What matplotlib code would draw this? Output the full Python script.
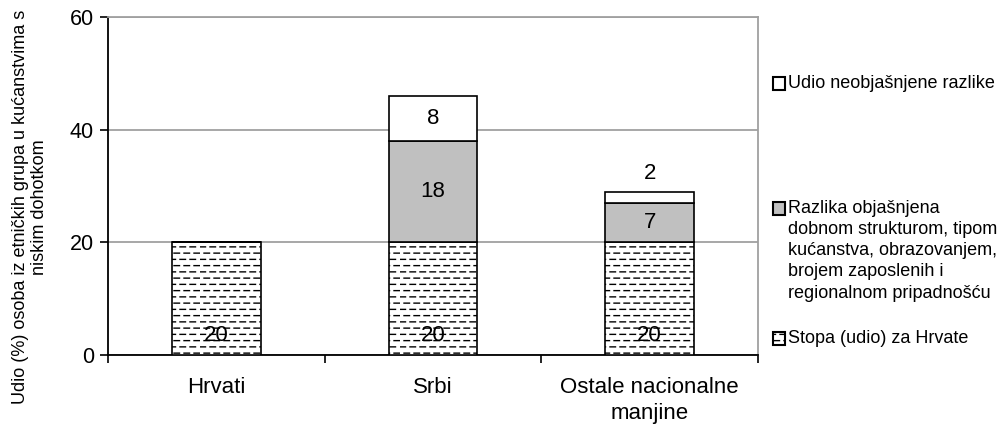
import matplotlib
matplotlib.use('Agg')
import matplotlib.pyplot as plt
from matplotlib import hatch as mhatch
from matplotlib.path import Path
from matplotlib.patches import Rectangle

# podaci
groups = ['Hrvati', 'Srbi', 'Ostale nacionalne\nmanjine']
stopa_hrvati = [20, 20, 20]
objasnjena = [0, 18, 7]
neobjasnjena = [0, 8, 2]

lbl_stopa = 'Stopa (udio) za Hrvate'
lbl_objasnjena = ('Razlika objašnjena\ndobnom strukturom, tipom\nkućanstva, obrazovanjem,\n'
                  'brojem zaposlenih i\nregionalnom pripadnošću')
lbl_neobjasnjena = 'Udio neobjašnjene razlike'
ylabel = 'Udio (%) osoba iz etničkih grupa u kućanstvima s\nniskim dohotkom'


# isprekidane vodoravne crte kao srafura (kao u Excelu)
class DashedRows(mhatch.HatchPatternBase):
    rows = 16
    dashes = 10

    def __init__(self, hatch, density):
        self.num_vertices = self.rows * self.dashes * 2 if '-' in hatch else 0

    def set_vertices_and_codes(self, vertices, codes):
        k = 0
        for i in range(self.rows):
            y = (i + 0.5) / self.rows
            shift = 0.04 if i % 2 else 0.0
            for j in range(self.dashes):
                x0 = j / self.dashes + shift
                vertices[k] = (x0, y)
                vertices[k + 1] = (x0 + 0.055, y)
                codes[k] = Path.MOVETO
                codes[k + 1] = Path.LINETO
                k += 2


mhatch._hatch_types = [DashedRows if t is mhatch.HorizontalHatch else t for t in mhatch._hatch_types]

plt.rcParams['font.family'] = ['Liberation Sans', 'DejaVu Sans']
plt.rcParams['hatch.linewidth'] = 1.0

W, H = 1005, 428
fig = plt.figure(figsize=(W / 100, H / 100), dpi=100)
ax = fig.add_axes([108 / W, 1 - 355 / H, 650 / W, 338 / H])

x = list(range(len(groups)))
w = 0.41
ax.bar(x, stopa_hrvati, w, color='white', edgecolor='black', linewidth=1.2, hatch='-', zorder=3)
ax.bar(x, objasnjena, w, bottom=stopa_hrvati, color='#c0c0c0', edgecolor='black', linewidth=1.2, zorder=3)
bottom3 = [a + b for a, b in zip(stopa_hrvati, objasnjena)]
ax.bar(x, neobjasnjena, w, bottom=bottom3, color='white', edgecolor='black', linewidth=1.2, zorder=3)

# oznake vrijednosti
vfs = 16
for i in x:
    ax.annotate(str(stopa_hrvati[i]), (i, 0), xytext=(0, 14), textcoords='offset points',
                ha='center', va='center', fontsize=vfs, zorder=5)
    if objasnjena[i]:
        ax.text(i, stopa_hrvati[i] + objasnjena[i] / 2, str(objasnjena[i]),
                ha='center', va='center', fontsize=vfs, zorder=5)
    if neobjasnjena[i]:
        if neobjasnjena[i] >= 4:
            ax.text(i, bottom3[i] + neobjasnjena[i] / 2, str(neobjasnjena[i]),
                    ha='center', va='center', fontsize=vfs, zorder=5)
        else:
            ax.annotate(str(neobjasnjena[i]), (i, bottom3[i] + neobjasnjena[i]), xytext=(0, 13),
                        textcoords='offset points', ha='center', va='center', fontsize=vfs, zorder=5)

ax.set_xlim(-0.5, 2.5)
ax.set_ylim(0, 60)
ax.set_yticks([0, 20, 40, 60])
ax.tick_params(axis='y', labelsize=15.5, length=6, width=1.2, pad=4)
ax.set_xticks(x)
ax.set_xticklabels(groups, fontsize=16, linespacing=1.3)
ax.tick_params(axis='x', which='major', length=0, pad=16)
ax.set_xticks([-0.5, 0.5, 1.5, 2.5], minor=True)
ax.tick_params(axis='x', which='minor', length=6, width=1.2)
ax.yaxis.grid(True, color='#a0a0a0', linewidth=1.3, zorder=0)
ax.set_axisbelow(True)
for s in ['left', 'bottom']:
    ax.spines[s].set_linewidth(1.3)
for s in ['top', 'right']:
    ax.spines[s].set_color('#a0a0a0')
    ax.spines[s].set_linewidth(1.3)

fig.text(30 / W, 1 - 207 / H, ylabel, rotation=90, ha='center', va='center',
         fontsize=13, linespacing=1.2)

# legenda desno: kvadratic poravnat s prvim redom teksta
entries = [
    (dict(facecolor='white'), lbl_neobjasnjena, 77),
    (dict(facecolor='#c0c0c0'), lbl_objasnjena, 202),
    (dict(facecolor='white', hatch='-'), lbl_stopa, 332),
]
for style, lab, ypx in entries:
    fig.add_artist(Rectangle((773 / W, 1 - (ypx + 13) / H), 12 / W, 13 / H, transform=fig.transFigure,
                             edgecolor='black', linewidth=1.5, **style))
    fig.text(788 / W, 1 - (ypx - 2) / H, lab, ha='left', va='top', fontsize=13, linespacing=1.32)

fig.savefig('out.png', dpi=100)
